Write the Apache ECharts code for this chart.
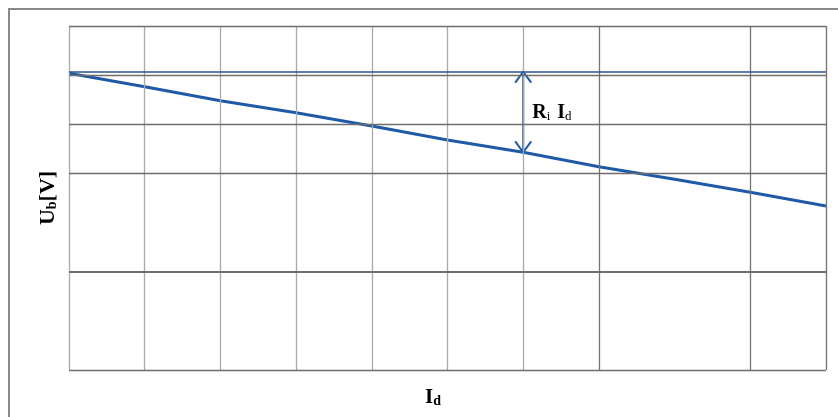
<!DOCTYPE html>
<html>
<head>
<meta charset="utf-8">
<script src="https://cdn.jsdelivr.net/npm/echarts@6/dist/echarts.min.js"></script>
<style>html,body{margin:0;padding:0;background:#fff}#c{width:838px;height:417px}</style>
</head>
<body>
<div id="c"></div>
<script>
// Data (axis units: x 0..10, y 0..7)
var currentX = [0, 1, 2, 3, 4, 5, 6, 7, 8, 9, 10];
var voltageY = [6.04, 5.765, 5.48, 5.236, 4.965, 4.68, 4.43, 4.137, 3.883, 3.616, 3.337];
var noLoadY = 6.07;          // horizontal reference line (no-load voltage)
var arrowX = 6;              // position of the Ri·Id arrow
var vGridLight = [0, 1, 2, 3, 4, 5, 6];
var vGridDark = [7, 9, 10];
var hGrid = [0, 2, 4, 5, 6, 7];

var serif = 'Liberation Serif';
var blue = '#1f5aa8';

var lineData = currentX.map(function (x, i) { return [x, voltageY[i]]; });
var arrowBottom = voltageY[currentX.indexOf(arrowX)];

var gridMarks = [];
vGridLight.forEach(function (v) { gridMarks.push({ xAxis: v, lineStyle: { color: '#a9a9a9', width: 1.3, type: 'solid' } }); });
vGridDark.forEach(function (v) { gridMarks.push({ xAxis: v, lineStyle: { color: '#737373', width: 1.3, type: 'solid' } }); });
hGrid.forEach(function (v) { gridMarks.push({ yAxis: v, lineStyle: { color: '#6e6e6e', width: v === 2 ? 2 : 1.3, type: 'solid' } }); });

var chart = echarts.init(document.getElementById('c'), null, { renderer: 'canvas' });
chart.setOption({
  animation: false,
  backgroundColor: '#fff',
  grid: { left: 69, right: 12, top: 26, bottom: 47, containLabel: false },
  graphic: [{
    type: 'rect', silent: true, z: 0,
    shape: { x: 9, y: 9, width: 900, height: 500 },
    style: { fill: 'none', stroke: '#8a8a8a', lineWidth: 2 }
  }],
  xAxis: {
    type: 'value', min: 0, max: 10, interval: 1,
    axisLine: { show: false }, axisTick: { show: false }, axisLabel: { show: false }, splitLine: { show: false },
    name: '{a|I}{b|d}', nameLocation: 'middle', nameGap: 14,
    nameTextStyle: {
      padding: [0, 29, 0, 0],
      rich: {
        a: { fontFamily: serif, fontWeight: 'bold', fontSize: 21, color: '#000', verticalAlign: 'bottom', lineHeight: 24 },
        b: { fontFamily: serif, fontWeight: 'bold', fontSize: 14, color: '#000', verticalAlign: 'bottom', lineHeight: 24 }
      }
    }
  },
  yAxis: {
    type: 'value', min: 0, max: 7, interval: 1,
    axisLine: { show: false }, axisTick: { show: false }, axisLabel: { show: false }, splitLine: { show: false },
    name: '{a|U}{b|b}{a|[V]}', nameLocation: 'middle', nameGap: 10, nameRotate: 90,
    nameTextStyle: {
      rich: {
        a: { fontFamily: serif, fontWeight: 'bold', fontSize: 22, color: '#000', verticalAlign: 'bottom', lineHeight: 24 },
        b: { fontFamily: serif, fontWeight: 'bold', fontSize: 14, color: '#000', verticalAlign: 'bottom', lineHeight: 24 }
      }
    }
  },
  series: [
    {
      type: 'line', name: 'grid', data: [], z: 1, silent: true,
      markLine: { silent: true, symbol: 'none', label: { show: false }, animation: false, data: gridMarks }
    },
    {
      type: 'line', name: 'Ub', data: lineData, z: 3, showSymbol: false, symbol: 'none',
      lineStyle: { color: blue, width: 3 },
      markLine: {
        silent: true, symbol: 'none', label: { show: false }, animation: false,
        data: [{ yAxis: noLoadY, lineStyle: { color: '#2b5592', width: 1.5, type: 'solid' } }]
      }
    },
    {
      type: 'custom', name: 'arrow', z: 4, silent: true,
      data: [[arrowX, noLoadY, arrowBottom]],
      renderItem: function (params, api) {
        var top = api.coord([api.value(0), api.value(1)]);
        var bot = api.coord([api.value(0), api.value(2)]);
        var x = top[0];
        var ls = { stroke: blue, lineWidth: 2, fill: 'none' };
        return {
          type: 'group',
          children: [
            { type: 'line', shape: { x1: x, y1: top[1], x2: x, y2: bot[1] }, style: ls },
            { type: 'polyline', shape: { points: [[x - 8, top[1] + 11], [x, top[1]], [x + 8, top[1] + 11]] }, style: ls },
            { type: 'polyline', shape: { points: [[x - 8, bot[1] - 11], [x, bot[1]], [x + 8, bot[1] - 11]] }, style: ls },
            {
              type: 'text', x: x + 9, y: (top[1] + bot[1]) / 2 + 0,
              style: {
                text: '{a|R}{b|i}{c|I}{b|d}', align: 'left', verticalAlign: 'middle',
                rich: {
                  a: { fontFamily: serif, fontWeight: 'bold', fontSize: 20, fill: '#000', verticalAlign: 'bottom', lineHeight: 22 },
                  c: { fontFamily: serif, fontWeight: 'bold', fontSize: 20, fill: '#000', verticalAlign: 'bottom', lineHeight: 22, padding: [0, 0, 0, 7] },
                  b: { fontFamily: serif, fontWeight: 'normal', fontSize: 13, fill: '#000', verticalAlign: 'bottom', lineHeight: 22 }
                }
              }
            }
          ]
        };
      }
    }
  ]
});
</script>
</body>
</html>
